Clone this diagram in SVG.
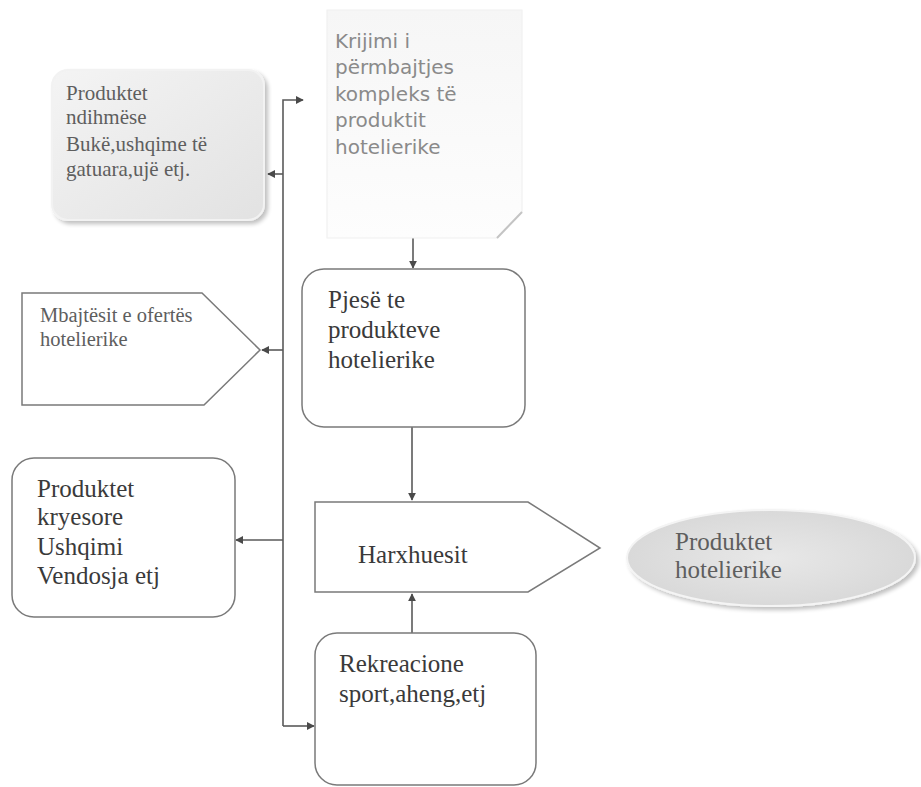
<svg xmlns="http://www.w3.org/2000/svg" width="921" height="787" viewBox="0 0 921 787">
<style>
.serif{font-family:"Liberation Serif","Times New Roman",serif;fill:#3a3a3a}
.soft{fill:#5e5e5e}
.sans{font-family:"DejaVu Sans","Liberation Sans",sans-serif;fill:#8a8a8a}
.box{fill:#fff;stroke:#7a7a7a;stroke-width:1.5}
.con{fill:none;stroke:#5a5a5a;stroke-width:1.6}
</style>
<defs>
<marker id="ah" viewBox="0 0 10 10" refX="9" refY="5" markerWidth="8" markerHeight="8" markerUnits="userSpaceOnUse" orient="auto">
<path d="M0,0 L10,5 L0,10 z" fill="#4a4a4a"/>
</marker>
<linearGradient id="g1" x1="0" y1="0" x2="1" y2="1">
<stop offset="0" stop-color="#f4f4f4"/>
<stop offset="1" stop-color="#e2e2e2"/>
</linearGradient>
<linearGradient id="g2" x1="0" y1="0" x2="0" y2="1">
<stop offset="0" stop-color="#f6f6f6"/>
<stop offset="1" stop-color="#fdfdfd"/>
</linearGradient>
<radialGradient id="g3" cx="0.5" cy="0.5" r="0.6">
<stop offset="0" stop-color="#e8e8e8"/>
<stop offset="1" stop-color="#d6d6d6"/>
</radialGradient>
<filter id="sh" x="-10%" y="-10%" width="130%" height="130%">
<feGaussianBlur in="SourceAlpha" stdDeviation="2"/>
<feOffset dx="3" dy="3"/>
<feComponentTransfer><feFuncA type="linear" slope="0.25"/></feComponentTransfer>
<feMerge><feMergeNode/><feMergeNode in="SourceGraphic"/></feMerge>
</filter>
</defs>
<rect width="921" height="787" fill="#fff"/>

<g id="connectors">
<path class="con" d="M283,726 V100 H303" marker-end="url(#ah)"/>
<path class="con" d="M283,726 H314" marker-end="url(#ah)"/>
<path class="con" d="M283,174 H268" marker-end="url(#ah)"/>
<path class="con" d="M283,350 H262" marker-end="url(#ah)"/>
<path class="con" d="M283,540 H236" marker-end="url(#ah)"/>
<path class="con" d="M413,238 V268" marker-end="url(#ah)"/>
<path class="con" d="M412,427 V500" marker-end="url(#ah)"/>
<path class="con" d="M412,633 V594" marker-end="url(#ah)"/>
</g>

<g id="ndihmese">
<rect x="52" y="70" width="212" height="150" rx="16" fill="url(#g1)" stroke="#f2f2f2" stroke-width="2" filter="url(#sh)"/>
<text class="serif soft" font-size="21" x="66" y="100">Produktet</text>
<text class="serif soft" font-size="21" x="66" y="124">ndihmëse</text>
<text class="serif soft" font-size="21" x="66" y="151">Bukë,ushqime të</text>
<text class="serif soft" font-size="21" x="66" y="176">gatuara,ujë etj.</text>
</g>

<g id="krijimi">
<path d="M327,10 H522 V212 L497,238 H327 Z" fill="url(#g2)" stroke="#f0f0f0" stroke-width="1.2"/>
<path d="M522,212 L497,238" stroke="#c4c4c4" stroke-width="2" fill="none"/>
<text class="sans" font-size="20" x="335" y="48">Krijimi i</text>
<text class="sans" font-size="20" x="335" y="74">përmbajtjes</text>
<text class="sans" font-size="20" x="335" y="101">kompleks të</text>
<text class="sans" font-size="20" x="335" y="127">produktit</text>
<text class="sans" font-size="20" x="335" y="154">hotelierike</text>
</g>

<g id="mbajtesit">
<path class="box" d="M22,293 H202 L260,350 L204,405 H22 Z"/>
<text class="serif soft" font-size="20.5" x="40" y="322">Mbajtësit e ofertës</text>
<text class="serif soft" font-size="20.5" x="40" y="346">hotelierike</text>
</g>

<g id="pjese">
<rect class="box" x="302" y="269" width="223" height="158" rx="22"/>
<text class="serif" font-size="25" x="328" y="308">Pjesë te</text>
<text class="serif" font-size="25" x="328" y="338">produkteve</text>
<text class="serif" font-size="25" x="328" y="368">hotelierike</text>
</g>

<g id="kryesore">
<rect class="box" x="12" y="458" width="223" height="159" rx="22"/>
<text class="serif" font-size="25" x="37" y="497">Produktet</text>
<text class="serif" font-size="25" x="37" y="525">kryesore</text>
<text class="serif" font-size="25" x="37" y="555">Ushqimi</text>
<text class="serif" font-size="25" x="37" y="584">Vendosja etj</text>
</g>

<g id="harxhuesit">
<path class="box" d="M315,502 H528 L600,548 L528,592 H315 Z"/>
<text class="serif" font-size="25" x="358" y="563">Harxhuesit</text>
</g>

<g id="rekreacione">
<rect class="box" x="315" y="633" width="221" height="152" rx="22"/>
<text class="serif" font-size="25" x="339" y="672">Rekreacione</text>
<text class="serif" font-size="25" x="339" y="702">sport,aheng,etj</text>
</g>

<g id="hotelierike">
<ellipse cx="771" cy="558" rx="144" ry="48" fill="url(#g3)" stroke="#f4f4f4" stroke-width="2" filter="url(#sh)"/>
<text class="serif soft" font-size="25" x="675" y="550">Produktet</text>
<text class="serif soft" font-size="25" x="675" y="578">hotelierike</text>
</g>
</svg>
